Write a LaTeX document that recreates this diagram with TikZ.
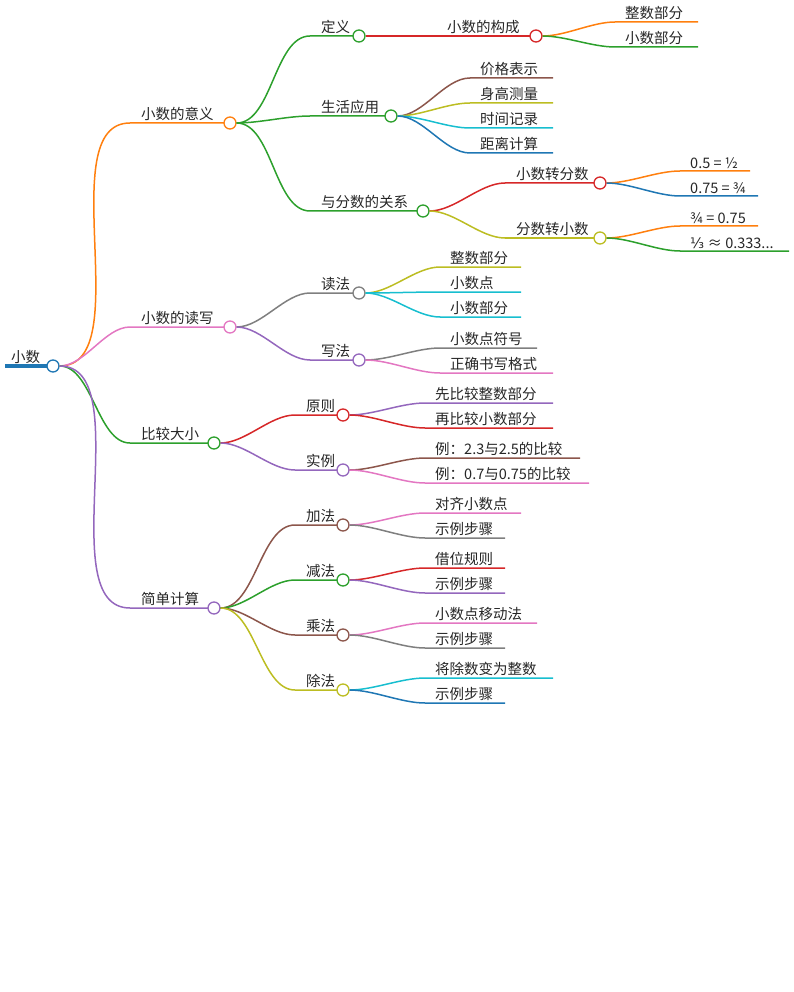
\documentclass[tikz,border=0pt]{standalone}
\usepackage{fontspec}
\setmainfont{Noto Sans CJK SC}
\newfontfamily\symfont{DejaVu Sans}
\usetikzlibrary{positioning}
\definecolor{cBlue}{HTML}{1F77B4}
\definecolor{cOrange}{HTML}{FF7F0E}
\definecolor{cGreen}{HTML}{2CA02C}
\definecolor{cRed}{HTML}{D62728}
\definecolor{cPurple}{HTML}{9467BD}
\definecolor{cBrown}{HTML}{8C564B}
\definecolor{cPink}{HTML}{E377C2}
\definecolor{cGray}{HTML}{7F7F7F}
\definecolor{cOlive}{HTML}{BCBD22}
\definecolor{cCyan}{HTML}{17BECF}
% node with circle: name, parent, x0, x1, y, colour, text
\newcommand\mmnode[7]{%
  \coordinate (#1-s) at (#3,#5);
  \draw[branch,#6] (#2) to[out=0,in=180] (#1-s) -- (#4,#5);
  \node[label,anchor=south west] (#1-t) at (#3+10,#5-1) {#7};
  \node[knot,draw=#6] (#1) at (#4+6,#5) {};}
% leaf: name, parent, x0, x1, y, colour, text
\newcommand\mmleaf[7]{%
  \coordinate (#1-s) at (#3,#5);
  \draw[branch,#6] (#2) to[out=0,in=180] (#1-s) -- (#4,#5);
  \node[label,anchor=south west] (#1-t) at (#3+9,#5-1) {#7};}
\begin{document}
\begin{tikzpicture}[
    x=1pt, y=-1pt,
    branch/.style={line width=1.5pt},
    label/.style={font=\fontsize{14.5}{16}\selectfont, inner sep=1pt, text=black!85},
    knot/.style={circle, fill=white, line width=1.3pt, minimum size=12pt, inner sep=0pt},
    every to/.style={looseness=0.8}
    ]
    \useasboundingbox (0,0) rectangle (794,992);
    % root
    \draw[cBlue, line width=4pt] (5,366) -- (47,366);
    \node[label,anchor=south west] (root-t) at (10,365) {小数};
    \node[knot,draw=cBlue] (root) at (53,366) {};
    % level 1
    \mmnode{yiyi}{root.east}{130}{224}{123}{cOrange}{小数的意义}
    \mmnode{duxie}{root.east}{130}{224}{327}{cPink}{小数的读写}
    \mmnode{bijiao}{root.east}{130}{208}{443}{cGreen}{比较大小}
    \mmnode{jisuan}{root.east}{130}{208}{608}{cPurple}{简单计算}
    % meaning
    \mmnode{dingyi}{yiyi.east}{310}{353}{36}{cGreen}{定义}
    \mmnode{yingyong}{yiyi.east}{310}{385}{116}{cGreen}{生活应用}
    \mmnode{fenshu}{yiyi.east}{310}{417}{211}{cGreen}{与分数的关系}
    \mmnode{goucheng}{dingyi.east}{436}{530}{36}{cRed}{小数的构成}
    \mmleaf{gc1}{goucheng.east}{615}{698}{22}{cOrange}{整数部分}
    \mmleaf{gc2}{goucheng.east}{615}{698}{47}{cGreen}{小数部分}
    \mmleaf{yy1}{yingyong.east}{470}{553}{78}{cBrown}{价格表示}
    \mmleaf{yy2}{yingyong.east}{470}{553}{103}{cOlive}{身高测量}
    \mmleaf{yy3}{yingyong.east}{470}{553}{128}{cCyan}{时间记录}
    \mmleaf{yy4}{yingyong.east}{470}{553}{153}{cBlue}{距离计算}
    \mmnode{zhuanfen}{fenshu.east}{505}{594}{183}{cRed}{小数转分数}
    \mmnode{zhuanxiao}{fenshu.east}{505}{594}{238}{cOlive}{分数转小数}
    \mmleaf{zf1}{zhuanfen.east}{680}{750}{171}{cOrange}{0.5 = ½}
    \mmleaf{zf2}{zhuanfen.east}{680}{758}{196}{cBlue}{0.75 = ¾}
    \mmleaf{zx1}{zhuanxiao.east}{680}{758}{226}{cOrange}{¾ = 0.75}
    \mmleaf{zx2}{zhuanxiao.east}{680}{789}{251}{cGreen}{{\symfont ⅓} ≈ 0.333...}
    % reading and writing
    \mmnode{dufa}{duxie.east}{310}{353}{293}{cGray}{读法}
    \mmnode{xiefa}{duxie.east}{310}{353}{360}{cPurple}{写法}
    \mmleaf{df1}{dufa.east}{440}{521}{267}{cOlive}{整数部分}
    \mmleaf{df2}{dufa.east}{440}{521}{292}{cCyan}{小数点}
    \mmleaf{df3}{dufa.east}{440}{521}{317}{cCyan}{小数部分}
    \mmleaf{xf1}{xiefa.east}{440}{537}{348}{cGray}{小数点符号}
    \mmleaf{xf2}{xiefa.east}{440}{553}{373}{cPink}{正确书写格式}
    % comparing
    \mmnode{yuanze}{bijiao.east}{295}{337}{415}{cRed}{原则}
    \mmnode{shili}{bijiao.east}{295}{337}{470}{cPurple}{实例}
    \mmleaf{yz1}{yuanze.east}{425}{553}{403}{cPurple}{先比较整数部分}
    \mmleaf{yz2}{yuanze.east}{425}{553}{428}{cRed}{再比较小数部分}
    \mmleaf{sl1}{shili.east}{425}{580}{458}{cBrown}{例：2.3与2.5的比较}
    \mmleaf{sl2}{shili.east}{425}{589}{483}{cPink}{例：0.7与0.75的比较}
    % computing
    \mmnode{jia}{jisuan.east}{295}{337}{525}{cBrown}{加法}
    \mmnode{jian}{jisuan.east}{295}{337}{580}{cGreen}{减法}
    \mmnode{cheng}{jisuan.east}{295}{337}{635}{cBrown}{乘法}
    \mmnode{chu}{jisuan.east}{295}{337}{690}{cOlive}{除法}
    \mmleaf{j1}{jia.east}{425}{521}{513}{cPink}{对齐小数点}
    \mmleaf{j2}{jia.east}{425}{505}{538}{cGray}{示例步骤}
    \mmleaf{n1}{jian.east}{425}{505}{568}{cRed}{借位规则}
    \mmleaf{n2}{jian.east}{425}{505}{593}{cPurple}{示例步骤}
    \mmleaf{c1}{cheng.east}{425}{537}{623}{cPink}{小数点移动法}
    \mmleaf{c2}{cheng.east}{425}{505}{648}{cGray}{示例步骤}
    \mmleaf{u1}{chu.east}{425}{553}{678}{cCyan}{将除数变为整数}
    \mmleaf{u2}{chu.east}{425}{505}{703}{cBlue}{示例步骤}
\end{tikzpicture}
\end{document}
